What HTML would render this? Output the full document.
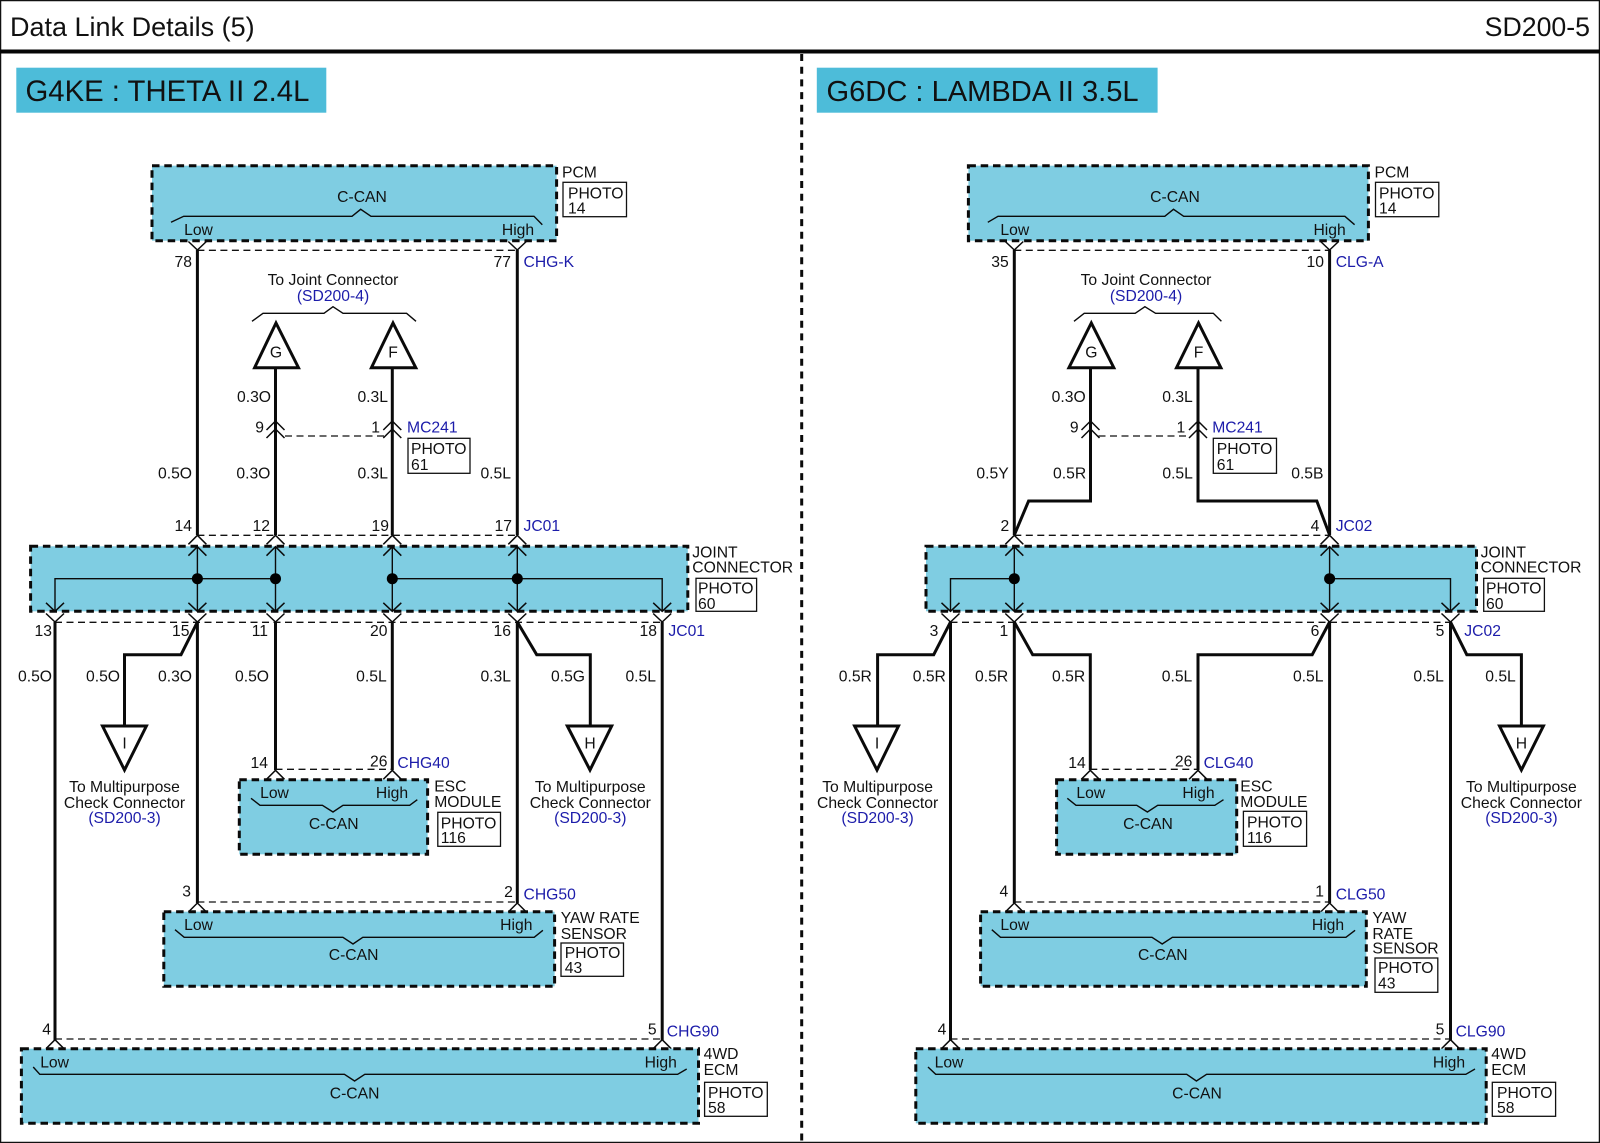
<!DOCTYPE html>
<html><head><meta charset="utf-8"><title>Data Link Details (5)</title>
<style>
html,body{margin:0;padding:0;background:#fff}
svg{display:block}
text{font-family:"Liberation Sans",sans-serif;font-size:15.7px;fill:#111}
.e{text-anchor:end}.m{text-anchor:middle}
.b{fill:#1c1caa}
.box{fill:#7fcde2;stroke:#0a0a0a;stroke-width:3;stroke-dasharray:7.5 4.8}
.ph{fill:#fff;stroke:#111;stroke-width:1.3}
.w{fill:none;stroke:#0a0a0a;stroke-width:3}
.t{fill:none;stroke:#0a0a0a;stroke-width:1.4}
.d{fill:none;stroke:#111;stroke-width:1.3;stroke-dasharray:7 4.5}
.tri{fill:#fff;stroke:#0a0a0a;stroke-width:3;stroke-linejoin:miter}
</style></head><body>
<svg xmlns="http://www.w3.org/2000/svg" width="1600" height="1143" viewBox="0 0 1600 1143">
<defs>
<path id="u" d="M-9 9L0 0L9 9" fill="none" stroke="#0a0a0a" stroke-width="1.5"/>
<path id="v" d="M-9 -8.5L0 0L9 -8.5" fill="none" stroke="#0a0a0a" stroke-width="1.5"/>
</defs>
<rect width="1600" height="1143" fill="#fff"/>
<rect x="0.5" y="0.5" width="1599" height="1142" fill="none" stroke="#111" stroke-width="1.5"/>
<rect x="0" y="49.5" width="1600" height="4" fill="#050505"/>
<path d="M801.7 54V1143" fill="none" stroke="#0a0a0a" stroke-width="3" stroke-dasharray="7 5.7"/>
<text x="10" y="36" style="font-size:27px">Data Link Details (5)</text>
<text x="1590" y="36" class="e" style="font-size:26.7px">SD200-5</text>

<!-- LEFT PANEL -->
<rect x="16.3" y="67.7" width="310" height="45" fill="#4dbcd9"/>
<text x="25.5" y="101" style="font-size:29.3px">G4KE : THETA II 2.4L</text>

<rect class="box" x="152" y="165.7" width="404.6" height="75"/>
<text class="m" x="362" y="202">C-CAN</text>
<path class="t" d="M171 222.3L183.7 216.3H352L360.7 209.3L371 216.3H534L542.3 224.7"/>
<text class="m" x="198.5" y="235">Low</text><text class="m" x="518" y="235">High</text>
<text x="562" y="177.7">PCM</text>
<rect class="ph" x="563" y="182.3" width="63.5" height="34.4"/>
<text x="568" y="198.3">PHOTO</text><text x="568" y="213.3">14</text>
<use href="#v" x="197.4" y="250"/><use href="#v" x="517.3" y="250"/>
<path class="d" d="M197.4 250.3H517.3"/>
<text class="e" x="192" y="267">78</text><text class="e" x="511" y="267">77</text><text class="b" x="523.5" y="267">CHG-K</text>
<path class="w" d="M197.4 250V535M517.3 250V535M275.5 367V535M392.3 367V535"/>
<text class="m" x="333" y="285">To Joint Connector</text><text class="m b" x="333" y="301">(SD200-4)</text>
<path class="t" d="M252 321.3L263 313.3H324L333 306.7L343 313.3H406.6L416 321.3"/>
<path class="tri" d="M276 323L254.6 367.7H298.5Z"/><path class="tri" d="M393 323L371.4 367.7H415.8Z"/>
<text class="m" x="276" y="357.3">G</text><text class="m" x="393" y="357.3">F</text>
<text class="e" x="271" y="402">0.3O</text><text class="e" x="388" y="402">0.3L</text>
<use href="#u" x="275.5" y="421"/><use href="#u" x="275.5" y="429"/><use href="#u" x="392.3" y="421"/><use href="#u" x="392.3" y="429"/>
<path class="d" d="M285 436H385"/>
<text class="e" x="264" y="432.7">9</text><text class="e" x="380" y="432.7">1</text><text class="b" x="407" y="432.7">MC241</text>
<rect class="ph" x="408" y="438.3" width="62" height="35"/>
<text x="411" y="454">PHOTO</text><text x="411" y="470">61</text>
<text class="e" x="192" y="478.7">0.5O</text><text class="e" x="270.4" y="478.7">0.3O</text><text class="e" x="388" y="478.7">0.3L</text><text class="e" x="511" y="478.7">0.5L</text>
<text class="e" x="192" y="531">14</text><text class="e" x="270" y="531">12</text><text class="e" x="389" y="531">19</text><text class="e" x="512" y="531">17</text><text class="b" x="523.5" y="531">JC01</text>
<path class="d" d="M197.4 535.3H517.3"/>
<use href="#u" x="197.4" y="535.3"/><use href="#u" x="275.5" y="535.3"/><use href="#u" x="392.3" y="535.3"/><use href="#u" x="517.3" y="535.3"/>
<rect class="box" x="30.6" y="546.3" width="657.2" height="65"/>
<path class="t" d="M197.4 547V611M275.5 547V611M392.3 547V611M517.3 547V611M55 611V578.7H275.5M392.3 578.7H662.2V611"/>
<use href="#u" x="197.4" y="546.7"/><use href="#u" x="275.5" y="546.7"/><use href="#u" x="392.3" y="546.7"/><use href="#u" x="517.3" y="546.7"/>
<use href="#v" x="55" y="611.3"/><use href="#v" x="197.4" y="611.3"/><use href="#v" x="275.5" y="611.3"/><use href="#v" x="392.3" y="611.3"/><use href="#v" x="517.3" y="611.3"/><use href="#v" x="662.2" y="611.3"/>
<use href="#v" x="55" y="622"/><use href="#v" x="197.4" y="622"/><use href="#v" x="275.5" y="622"/><use href="#v" x="392.3" y="622"/><use href="#v" x="517.3" y="622"/><use href="#v" x="662.2" y="622"/>
<circle cx="197.4" cy="578.7" r="5.5"/><circle cx="275.5" cy="578.7" r="5.5"/><circle cx="392.3" cy="578.7" r="5.5"/><circle cx="517.3" cy="578.7" r="5.5"/>
<text x="692.3" y="557.7">JOINT</text><text x="692.3" y="572.7">CONNECTOR</text>
<rect class="ph" x="696" y="578.3" width="60.6" height="33"/>
<text x="698" y="593.3">PHOTO</text><text x="698" y="609">60</text>
<path class="d" d="M55 622.3H662.2"/>
<text class="e" x="52" y="636">13</text><text class="e" x="189.5" y="636">15</text><text class="e" x="268" y="636">11</text><text class="e" x="387.5" y="636">20</text><text class="e" x="511" y="636">16</text><text class="e" x="657" y="636">18</text><text class="b" x="668.4" y="636">JC01</text>
<path class="w" d="M55 622V1040M197.4 622V903M275.5 622V770M392.3 622V770M517.3 622V903M662.2 622V1040"/>
<path class="w" d="M197.4 622L181 654.7H124.5V726M517.3 622L536.7 654.7H590.3V726"/>
<path class="tri" d="M102.5 726H146.4L124.5 770Z"/><path class="tri" d="M567.3 726H611.7L590 770Z"/>
<text class="m" x="124.5" y="748.3">I</text><text class="m" x="590" y="748.3">H</text>
<text class="e" x="52" y="681.7">0.5O</text><text class="e" x="120" y="681.7">0.5O</text><text class="e" x="192" y="681.7">0.3O</text><text class="e" x="269" y="681.7">0.5O</text><text class="e" x="386.7" y="681.7">0.5L</text><text class="e" x="511" y="681.7">0.3L</text><text class="e" x="585" y="681.7">0.5G</text><text class="e" x="656" y="681.7">0.5L</text>
<text class="m" x="124.5" y="792">To Multipurpose</text><text class="m" x="124.5" y="808">Check Connector</text><text class="m b" x="124.5" y="823">(SD200-3)</text>
<text class="m" x="590.3" y="792">To Multipurpose</text><text class="m" x="590.3" y="808">Check Connector</text><text class="m b" x="590.3" y="823">(SD200-3)</text>
<text class="e" x="268" y="768">14</text><text class="e" x="387.5" y="766.3">26</text><text class="b" x="397.4" y="768">CHG40</text>
<path class="d" d="M275.5 769.3H392.3"/>
<use href="#u" x="275.5" y="770.3"/><use href="#u" x="392.3" y="770.3"/>
<rect class="box" x="239.3" y="779.7" width="188.3" height="74.6"/>
<text class="m" x="274.5" y="798">Low</text><text class="m" x="392" y="798">High</text>
<path class="t" d="M251 798.3L260 805.3H322.4L333 812L343 805.3H409.7L417.3 799.7"/>
<text class="m" x="333.7" y="829">C-CAN</text>
<text x="434.2" y="791.3">ESC</text><text x="434.2" y="807">MODULE</text>
<rect class="ph" x="437.8" y="812.3" width="62.7" height="34"/>
<text x="440.8" y="828.3">PHOTO</text><text x="440.8" y="843">116</text>
<text class="e" x="191" y="896.3">3</text><text class="e" x="512.8" y="897">2</text><text class="b" x="523.5" y="899.7">CHG50</text>
<path class="d" d="M197.4 902H517.3"/>
<use href="#u" x="197.4" y="903"/><use href="#u" x="517.3" y="903"/>
<rect class="box" x="163.8" y="911.7" width="390.8" height="74.6"/>
<text class="m" x="198.5" y="930">Low</text><text class="m" x="516.3" y="930">High</text>
<path class="t" d="M175 929.7L184.2 937.3H342.9L353 944L362.8 937.3H534.2L542.9 930.3"/>
<text class="m" x="353.6" y="960">C-CAN</text>
<text x="560.7" y="923">YAW RATE</text><text x="560.7" y="939">SENSOR</text>
<rect class="ph" x="561" y="943" width="62.5" height="33.3"/>
<text x="564.8" y="958">PHOTO</text><text x="564.8" y="973">43</text>
<text class="e" x="51" y="1034.7">4</text><text class="e" x="656.6" y="1034.7">5</text><text class="b" x="666.8" y="1036.3">CHG90</text>
<path class="d" d="M55 1039H662.2"/>
<use href="#u" x="55" y="1039.7"/><use href="#u" x="662.2" y="1039.7"/>
<rect class="box" x="21.4" y="1048.7" width="677.1" height="74.6"/>
<text class="m" x="54.6" y="1067.3">Low</text><text class="m" x="660.7" y="1067.3">High</text>
<path class="t" d="M33.2 1067L39.8 1074.3H344.4L354.6 1081L364.8 1074.3H677.6L686.7 1069"/>
<text class="m" x="354.6" y="1098.3">C-CAN</text>
<text x="703.6" y="1059">4WD</text><text x="703.6" y="1075">ECM</text>
<rect class="ph" x="704.6" y="1082.3" width="62.7" height="34"/>
<text x="708" y="1098">PHOTO</text><text x="708" y="1113">58</text>

<!-- RIGHT PANEL -->
<rect x="816.8" y="67.7" width="340.8" height="45" fill="#4dbcd9"/>
<text x="826.5" y="101" style="font-size:29.1px">G6DC : LAMBDA II 3.5L</text>

<rect class="box" x="968.4" y="165.7" width="400" height="75"/>
<text class="m" x="1175" y="202">C-CAN</text>
<path class="t" d="M987.8 222.3L998 216.3H1164.8L1173.5 209.3L1183.7 216.3H1344.9L1354.6 224.7"/>
<text class="m" x="1014.8" y="235">Low</text><text class="m" x="1329.6" y="235">High</text>
<text x="1374.5" y="177.7">PCM</text>
<rect class="ph" x="1375.5" y="182.3" width="63.3" height="34.4"/>
<text x="1379" y="198.3">PHOTO</text><text x="1379" y="213.3">14</text>
<use href="#v" x="1014.3" y="250"/><use href="#v" x="1329.6" y="250"/>
<path class="d" d="M1014.3 250.3H1329.6"/>
<text class="e" x="1008.7" y="267">35</text><text class="e" x="1324" y="267">10</text><text class="b" x="1335.7" y="267">CLG-A</text>
<path class="w" d="M1014.3 250V535M1329.6 250V535"/>
<text class="m" x="1146" y="285">To Joint Connector</text><text class="m b" x="1146" y="301">(SD200-4)</text>
<path class="t" d="M1074 321.3L1084.2 313.3H1135.2L1144.9 306.7L1155.6 313.3H1213.3L1221.4 321.3"/>
<path class="w" d="M1090.5 367V501H1028.6L1014.3 535M1198 367V501H1316.8L1329.6 535"/>
<path class="tri" d="M1091.3 323L1068.9 367.7H1113.8Z"/><path class="tri" d="M1198.5 323L1176.5 367.7H1220.9Z"/>
<text class="m" x="1091.3" y="357.3">G</text><text class="m" x="1198.5" y="357.3">F</text>
<text class="e" x="1085.7" y="402">0.3O</text><text class="e" x="1192.8" y="402">0.3L</text>
<use href="#u" x="1090.5" y="421"/><use href="#u" x="1090.5" y="429"/><use href="#u" x="1198" y="421"/><use href="#u" x="1198" y="429"/>
<path class="d" d="M1098.5 436H1187.8"/>
<text class="e" x="1078.6" y="432.7">9</text><text class="e" x="1185.2" y="432.7">1</text><text class="b" x="1212.2" y="432.7">MC241</text>
<rect class="ph" x="1213.3" y="438.3" width="63.2" height="35"/>
<text x="1216.8" y="454">PHOTO</text><text x="1216.8" y="470">61</text>
<text class="e" x="1008.7" y="478.7">0.5Y</text><text class="e" x="1086.2" y="478.7">0.5R</text><text class="e" x="1192.9" y="478.7">0.5L</text><text class="e" x="1323.5" y="478.7">0.5B</text>
<text class="e" x="1009.2" y="531">2</text><text class="e" x="1319.4" y="531">4</text><text class="b" x="1335.7" y="531">JC02</text>
<path class="d" d="M1014.3 535.3H1329.6"/>
<use href="#u" x="1014.3" y="535.3"/><use href="#u" x="1329.6" y="535.3"/>
<rect class="box" x="926" y="546.3" width="550.5" height="65"/>
<path class="t" d="M1014.3 547V611M1329.6 547V611M950.5 611V578.7H1014.3M1329.6 578.7H1450.5V611"/>
<use href="#u" x="1014.3" y="546.7"/><use href="#u" x="1329.6" y="546.7"/>
<use href="#v" x="950.5" y="611.3"/><use href="#v" x="1014.3" y="611.3"/><use href="#v" x="1329.6" y="611.3"/><use href="#v" x="1450.5" y="611.3"/>
<use href="#v" x="950.5" y="622"/><use href="#v" x="1014.3" y="622"/><use href="#v" x="1329.6" y="622"/><use href="#v" x="1450.5" y="622"/>
<circle cx="1014.3" cy="578.7" r="5.5"/><circle cx="1329.6" cy="578.7" r="5.5"/>
<text x="1480.6" y="557.7">JOINT</text><text x="1480.6" y="572.7">CONNECTOR</text>
<rect class="ph" x="1483.7" y="578.3" width="60.7" height="33"/>
<text x="1486" y="593.3">PHOTO</text><text x="1486" y="609">60</text>
<path class="d" d="M950.5 622.3H1450.5"/>
<text class="e" x="938.3" y="636">3</text><text class="e" x="1008.2" y="636">1</text><text class="e" x="1319.4" y="636">6</text><text class="e" x="1444.4" y="636">5</text><text class="b" x="1464.3" y="636">JC02</text>
<path class="w" d="M950.5 622V1040M1014.3 622V903M1329.6 622V903M1450.5 622V1040"/>
<path class="w" d="M950.5 622L933.7 654.7H877.6V726M1014.3 622L1032.7 654.7H1090.3V770M1329.6 622L1312.2 654.7H1198V770M1450.5 622L1466.8 654.7H1521.4V726"/>
<path class="tri" d="M854.6 726H898.5L877 770Z"/><path class="tri" d="M1499.5 726H1543.4L1521.4 770Z"/>
<text class="m" x="877" y="748.3">I</text><text class="m" x="1521.4" y="748.3">H</text>
<text class="e" x="871.9" y="681.7">0.5R</text><text class="e" x="945.9" y="681.7">0.5R</text><text class="e" x="1008.2" y="681.7">0.5R</text><text class="e" x="1085.2" y="681.7">0.5R</text><text class="e" x="1192.3" y="681.7">0.5L</text><text class="e" x="1323.5" y="681.7">0.5L</text><text class="e" x="1443.9" y="681.7">0.5L</text><text class="e" x="1515.8" y="681.7">0.5L</text>
<text class="m" x="877.6" y="792">To Multipurpose</text><text class="m" x="877.6" y="808">Check Connector</text><text class="m b" x="877.6" y="823">(SD200-3)</text>
<text class="m" x="1521.4" y="792">To Multipurpose</text><text class="m" x="1521.4" y="808">Check Connector</text><text class="m b" x="1521.4" y="823">(SD200-3)</text>
<text class="e" x="1085.7" y="768">14</text><text class="e" x="1192.3" y="766.3">26</text><text class="b" x="1203.6" y="768">CLG40</text>
<path class="d" d="M1090.3 769.3H1198"/>
<use href="#u" x="1090.3" y="770.3"/><use href="#u" x="1198" y="770.3"/>
<rect class="box" x="1056.6" y="779.7" width="180.1" height="74.6"/>
<text class="m" x="1090.8" y="798">Low</text><text class="m" x="1198.5" y="798">High</text>
<path class="t" d="M1067.3 798.3L1076 805.3H1136.7L1147.4 812L1157.7 805.3H1214.8L1223.5 799.7"/>
<text class="m" x="1148" y="829">C-CAN</text>
<text x="1240.3" y="791.3">ESC</text><text x="1240.3" y="807">MODULE</text>
<rect class="ph" x="1243.4" y="811.3" width="63.2" height="35"/>
<text x="1247" y="827.3">PHOTO</text><text x="1247" y="843">116</text>
<text class="e" x="1008.2" y="896.3">4</text><text class="e" x="1324" y="896.3">1</text><text class="b" x="1335.7" y="899.7">CLG50</text>
<path class="d" d="M1014.3 902H1329.6"/>
<use href="#u" x="1014.3" y="903"/><use href="#u" x="1329.6" y="903"/>
<rect class="box" x="980.6" y="911.7" width="385.7" height="74.6"/>
<text class="m" x="1014.8" y="930">Low</text><text class="m" x="1328" y="930">High</text>
<path class="t" d="M991.8 929.7L1000.5 937.3H1152L1162.2 944L1172.4 937.3H1345.9L1355.1 930.3"/>
<text class="m" x="1162.8" y="960">C-CAN</text>
<text x="1372.4" y="923">YAW</text><text x="1372.4" y="939">RATE</text><text x="1372.4" y="953.7">SENSOR</text>
<rect class="ph" x="1375" y="958" width="62.8" height="34.3"/>
<text x="1378" y="973">PHOTO</text><text x="1378" y="988.7">43</text>
<text class="e" x="946.4" y="1034.7">4</text><text class="e" x="1444.4" y="1034.7">5</text><text class="b" x="1455.6" y="1036.3">CLG90</text>
<path class="d" d="M950.5 1039H1450.5"/>
<use href="#u" x="950.5" y="1039.7"/><use href="#u" x="1450.5" y="1039.7"/>
<rect class="box" x="915.8" y="1048.7" width="570.4" height="74.6"/>
<text class="m" x="949" y="1067.3">Low</text><text class="m" x="1449" y="1067.3">High</text>
<path class="t" d="M928 1067L935.7 1074.3H1186.7L1196.4 1081L1206.6 1074.3H1465.8L1475 1069"/>
<text class="m" x="1197" y="1098.3">C-CAN</text>
<text x="1491.3" y="1059">4WD</text><text x="1491.3" y="1075">ECM</text>
<rect class="ph" x="1492.3" y="1082.3" width="63.3" height="34"/>
<text x="1497" y="1098">PHOTO</text><text x="1497" y="1113">58</text>
</svg>
</body></html>
